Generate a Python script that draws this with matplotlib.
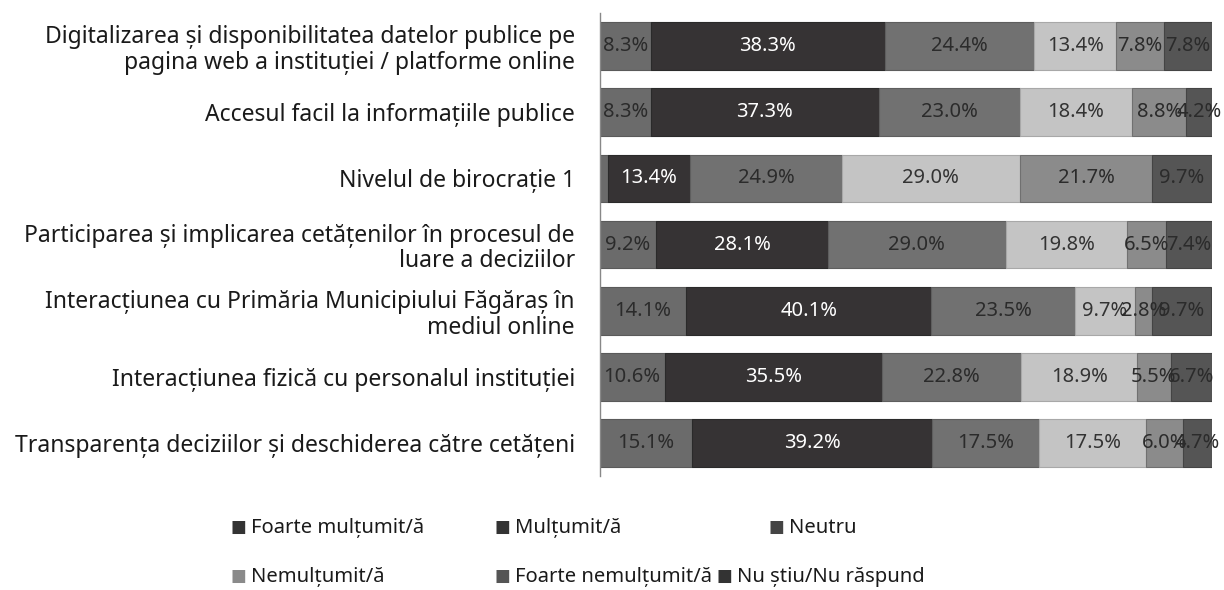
import numpy as np
import matplotlib.pyplot as plt

plt.rcParams['font.family'] = ['Noto Sans', 'DejaVu Sans']

categories = [
    "Digitalizarea și disponibilitatea datelor publice pe\npagina web a instituției / platforme online",
    "Accesul facil la informațiile publice",
    "Nivelul de birocrație 1",
    "Participarea și implicarea cetățenilor în procesul de\nluare a deciziilor",
    "Interacțiunea cu Primăria Municipiului Făgăraș în\nmediul online",
    "Interacțiunea fizică cu personalul instituției",
    "Transparența deciziilor și deschiderea către cetățeni",
]

series = ["Foarte mulțumit/ă", "Mulțumit/ă", "Neutru",
          "Nemulțumit/ă", "Foarte nemulțumit/ă", "Nu știu/Nu răspund"]

foarte_multumit = [8.3, 8.3, 1.3, 9.2, 14.1, 10.6, 15.1]
multumit = [38.3, 37.3, 13.4, 28.1, 40.1, 35.5, 39.2]
neutru = [24.4, 23.0, 24.9, 29.0, 23.5, 22.8, 17.5]
nemultumit = [13.4, 18.4, 29.0, 19.8, 9.7, 18.9, 17.5]
foarte_nemultumit = [7.8, 8.8, 21.7, 6.5, 2.8, 5.5, 6.0]
nu_stiu = [7.8, 4.2, 9.7, 7.4, 9.7, 6.7, 4.7]

values = [foarte_multumit, multumit, neutru, nemultumit, foarte_nemultumit, nu_stiu]
colors = ["#6b6b6b", "#363334", "#717171", "#c4c4c4", "#8b8b8b", "#555555"]
edge = ["#5a5a5a", "#2a2a2a", "#5e5e5e", "#a8a8a8", "#707070", "#444444"]
text_colors = ["#2b2b2b", "white", "#2b2b2b", "#333333", "#2b2b2b", "#2b2b2b"]
legend_colors = ["#333333", "#333333", "#444444", "#8a8a8a", "#555555", "#333333"]

fig = plt.figure(figsize=(12.24, 5.9), dpi=100)
ax = fig.add_axes([0.490, 0.193, 0.500, 0.785])

y = np.arange(len(categories))
left = np.zeros(len(categories))
for vals, c, ec, tc in zip(values, colors, edge, text_colors):
    vals = np.array(vals)
    ax.barh(y, vals, left=left, height=0.72, color=c, edgecolor=ec, linewidth=0.8)
    for yi, (l, v) in enumerate(zip(left, vals)):
        if v >= 2:
            ax.text(l + v / 2, yi, f"{v:.1f}%", ha="center", va="center",
                    fontsize=14.5, color=tc)
    left += vals

ax.set_xlim(0, 100)
ax.set_ylim(len(categories) - 0.5, -0.5)
ax.set_yticks(y)
ax.set_yticklabels(categories, fontsize=16.5, color="#1a1a1a", linespacing=1.1)
ax.tick_params(axis="y", length=0, pad=18)
ax.set_xticks([])
for s in ["top", "right", "bottom"]:
    ax.spines[s].set_visible(False)
ax.spines["left"].set_color("#888888")
ax.spines["left"].set_linewidth(1)

# legend laid out as two rows of three entries
leg_x = [230, 494, 768, 230, 494, 716]
leg_y = [528, 528, 528, 577, 577, 577]
for name, c, lx, ly in zip(series, legend_colors, leg_x, leg_y):
    fig.text(lx / 1224, 1 - ly / 590, "■", color=c, fontsize=12,
             ha="left", va="center")
    fig.text((lx + 21) / 1224, 1 - ly / 590, name, color="#1a1a1a",
             fontsize=14.5, ha="left", va="center")

fig.savefig("out.png", dpi=100, facecolor="white")
